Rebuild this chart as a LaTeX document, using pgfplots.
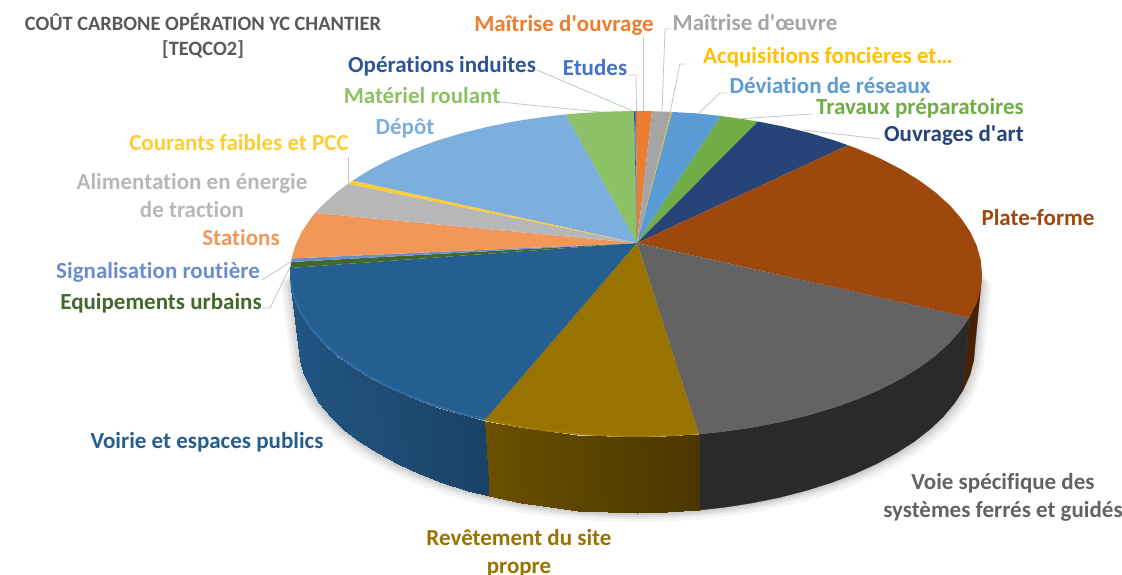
\documentclass[border=0pt]{standalone}
\usepackage{pgfplots}
\usepackage{pgfplotstable}
\usepackage{fontspec}
\setmainfont{Carlito}[Ligatures=NoCommon]
\pgfplotsset{compat=1.18}
\definecolor{cMO}{HTML}{ED7D31}
\definecolor{cMOE}{HTML}{A5A5A5}
\definecolor{cAcq}{HTML}{FFC000}
\definecolor{cDev}{HTML}{5B9BD5}
\definecolor{cTrav}{HTML}{70AD47}
\definecolor{cOuv}{HTML}{264478}
\definecolor{cPlat}{HTML}{9E480E}
\definecolor{cVoie}{HTML}{636363}
\definecolor{cRev}{HTML}{997300}
\definecolor{cVoir}{HTML}{255E91}
\definecolor{cEq}{HTML}{43682B}
\definecolor{cSig}{HTML}{698ED0}
\definecolor{cSta}{HTML}{F1975A}
\definecolor{cAli}{HTML}{B7B7B7}
\definecolor{cCou}{HTML}{FFCD33}
\definecolor{cDep}{HTML}{7CAFDD}
\definecolor{cMat}{HTML}{8CC168}
\definecolor{cOpe}{HTML}{2F5597}
\definecolor{cEtu}{HTML}{4472C4}
\definecolor{lead}{HTML}{C4C4C4}
\definecolor{ttl}{HTML}{595959}
\pgfplotsset{
  colormap={voirmap}{rgb255(0cm)=(26,66,102) rgb255(1cm)=(33,85,130)},
  colormap={revmap}{rgb255(0cm)=(74,55,0) rgb255(1cm)=(107,80,0)},
}
\pgfplotstableread{
x y
975 346
973.7 360.6
963.5 389.2
954.6 403.1
943.3 416.6
929.7 429.5
913.9 441.8
895.9 453.3
876 464.1
854.3 473.9
830.9 482.8
806 490.6
779.8 497.4
752.6 502.9
724.5 507.3
698.6 510.2
666.5 512.4
637 513
607.5 512.4
578.3 510.5
549.5 507.3
521.4 502.9
488.8 496.1
468 490.6
443.1 482.8
419.7 473.9
398 464.1
378.1 453.3
360.1 441.8
344.3 429.5
330.7 416.6
319.4 403.1
310.5 389.2
304.1 375
300.3 360.6
299 346
290 274
636 274
982 274
}\silhouette
\newcommand{\lbl}[4]{\node[text=#4,font=\fontsize{#3}{#3}\selectfont\bfseries,inner sep=0pt,anchor=base] at (axis cs:#1) {#2};}
\newcommand{\q}{\textquotesingle}
\begin{document}
\begin{tikzpicture}
\path[use as bounding box] (0,0) rectangle (1122pt,-575pt);
\begin{axis}[
  at={(0,-575pt)},anchor=south west,
  x=1pt,y=1pt,y dir=reverse,
  xmin=0,xmax=1122,ymin=0,ymax=575,
  hide axis,clip=false,no markers,
  point meta min=0,point meta max=1,
]
% soft shadow
\addplot[fill=black,draw=none,opacity=0.04] table[x expr={637+(\thisrow{x}-637)*1.028},y expr={\thisrow{y}+9}] {\silhouette} -- cycle;
\addplot[fill=black,draw=none,opacity=0.05] table[x expr={637+(\thisrow{x}-637)*1.02},y expr={\thisrow{y}+6}] {\silhouette} -- cycle;
\addplot[fill=black,draw=none,opacity=0.06] table[x expr={637+(\thisrow{x}-637)*1.012},y expr={\thisrow{y}+4}] {\silhouette} -- cycle;
\addplot[fill=black,draw=none,opacity=0.07] table[x expr={637+(\thisrow{x}-637)*1.005},y expr={\thisrow{y}+2}] {\silhouette} -- cycle;
% walls: Plate-forme
\addplot[fill=cPlat!45!black,draw=cPlat!45!black,line width=.3pt] coordinates {(982,274)(980.7,288.2)(976.7,302.3)(969.4,317.6)(962.7,390.6)(969.9,375)(973.7,360.6)(975,346)} -- cycle;
% walls: Voie
\addplot[fill=cVoie!42!black,draw=cVoie!42!black,line width=.3pt] coordinates {(969.4,317.6)(961.1,329.7)(949.6,342.9)(935.6,355.5)(919.4,367.5)(901,378.8)(880.7,389.3)(858.4,398.9)(834.5,407.5)(809,415.2)(782.2,421.7)(754.3,427.2)(725.5,431.4)(699,434.3)(698.6,510.2)(724.5,507.3)(752.6,502.9)(779.8,497.4)(806,490.6)(830.9,482.8)(854.3,473.9)(876,464.1)(895.9,453.3)(913.9,441.8)(929.7,429.5)(943.3,416.6)(954.6,403.1)(962.7,390.6)} -- cycle;
% walls: Revetement
\addplot[patch,patch type=rectangle,shader=interp,colormap name=revmap,point meta=\thisrow{c}] table {
x y c
699 434.3 0
698.6 510.2 0
666.5 512.4 .15
666.2 436.4 .15
666.2 436.4 .15
666.5 512.4 .15
637 513 .29
636 437 .29
636 437 .29
637 513 .29
607.5 512.4 .43
605.8 436.4 .43
605.8 436.4 .43
607.5 512.4 .43
578.3 510.5 .57
575.9 434.5 .57
575.9 434.5 .57
578.3 510.5 .57
549.5 507.3 .71
546.5 431.4 .71
546.5 431.4 .71
549.5 507.3 .71
521.4 502.9 .84
517.7 427.2 .84
517.7 427.2 .84
521.4 502.9 .84
488.8 496.1 1
484.3 420.5 1
};
% walls: Voirie
\addplot[patch,patch type=rectangle,shader=interp,colormap name=voirmap,point meta=\thisrow{c}] table {
x y c
484.3 420.5 0
488.8 496.1 0
468 490.6 .11
463 415.2 .11
463 415.2 .11
468 490.6 .11
443.1 482.8 .24
437.5 407.5 .24
437.5 407.5 .24
443.1 482.8 .24
419.7 473.9 .36
413.6 398.9 .36
413.6 398.9 .36
419.7 473.9 .36
398 464.1 .48
391.3 389.3 .48
391.3 389.3 .48
398 464.1 .48
378.1 453.3 .58
371 378.8 .58
371 378.8 .58
378.1 453.3 .58
360.1 441.8 .68
352.6 367.5 .68
352.6 367.5 .68
360.1 441.8 .68
344.3 429.5 .76
336.4 355.5 .76
336.4 355.5 .76
344.3 429.5 .76
330.7 416.6 .83
322.4 342.9 .83
322.4 342.9 .83
330.7 416.6 .83
319.4 403.1 .89
310.9 329.7 .89
310.9 329.7 .89
319.4 403.1 .89
310.5 389.2 .94
301.8 316.2 .94
301.8 316.2 .94
310.5 389.2 .94
304.1 375 .97
295.3 302.3 .97
295.3 302.3 .97
304.1 375 .97
300.3 360.6 .99
291.3 288.2 .99
291.3 288.2 .99
300.3 360.6 .99
299 346 1
290 274 1
};
% top slices
\addplot[fill=cMO,draw=none] coordinates {(637,243)(636,111)(652,111.2)} -- cycle;
\addplot[fill=cMOE,draw=none] coordinates {(637,243)(652,111.2)(671,111.8)} -- cycle;
\addplot[fill=cAcq,draw=none] coordinates {(637,243)(671,111.8)(672,111.9)} -- cycle;
\addplot[fill=cDev,draw=none] coordinates {(637,243)(672,111.9)(697,113.4)(721,116)} -- cycle;
\addplot[fill=cTrav,draw=none] coordinates {(637,243)(721,116)(740,118.6)(758,121.5)} -- cycle;
\addplot[fill=cOuv,draw=none] coordinates {(637,243)(758,121.5)(782.2,126.3)(809,132.8)(834.5,140.5)(848,145.2)} -- cycle;
\addplot[fill=cPlat,draw=none] coordinates {(637,243)(848,145.2)(858.4,149.1)(880.7,158.7)(901,169.2)(919.4,180.5)(935.6,192.5)(949.6,205.1)(961.1,218.3)(970.2,231.8)(976.7,245.7)(980.7,259.8)(982,274)(980.7,288.2)(976.7,302.3)(969.4,317.6)} -- cycle;
\addplot[fill=cVoie,draw=none] coordinates {(637,243)(969.4,317.6)(961.1,329.7)(949.6,342.9)(935.6,355.5)(919.4,367.5)(901,378.8)(880.7,389.3)(858.4,398.9)(834.5,407.5)(809,415.2)(782.2,421.7)(754.3,427.2)(725.5,431.4)(699,434.3)} -- cycle;
\addplot[fill=cRev,draw=none] coordinates {(637,243)(699,434.3)(666.2,436.4)(636,437)(605.8,436.4)(575.9,434.5)(546.5,431.4)(517.7,427.2)(484.3,420.5)} -- cycle;
\addplot[fill=cVoir,draw=none] coordinates {(637,243)(484.3,420.5)(463,415.2)(437.5,407.5)(413.6,398.9)(391.3,389.3)(371,378.8)(352.6,367.5)(336.4,355.5)(322.4,342.9)(310.9,329.7)(301.8,316.2)(295.3,302.3)(291.3,288.2)(290,274)(290.2,268)} -- cycle;
\addplot[fill=cEq,draw=none] coordinates {(637,243)(290.2,268)(291,262)} -- cycle;
\addplot[fill=cSig,draw=none] coordinates {(637,243)(291,262)(291.6,258.4)} -- cycle;
\addplot[fill=cSta,draw=none] coordinates {(637,243)(291.6,258.4)(295.3,245.7)(301.8,231.8)(310.9,218.3)(315,213)} -- cycle;
\addplot[fill=cAli,draw=none] coordinates {(637,243)(315,213)(322.4,205.1)(336.4,192.5)(348,183.7)} -- cycle;
\addplot[fill=cCou,draw=none] coordinates {(637,243)(348,183.7)(352.7,180.5)} -- cycle;
\addplot[fill=cDep,draw=none] coordinates {(637,243)(352.7,180.5)(371,169.2)(391.3,158.7)(413.6,149.1)(437.5,140.5)(463,132.8)(489.8,126.3)(517.7,120.8)(546.5,116.6)(565.8,114.4)} -- cycle;
\addplot[fill=cMat,draw=none] coordinates {(637,243)(565.8,114.4)(575.9,113.5)(605.8,111.6)(634,111)} -- cycle;
\addplot[fill=cOpe,draw=none] coordinates {(637,243)(634,111)(635,111)} -- cycle;
\addplot[fill=cEtu,draw=none] coordinates {(637,243)(635,111)(636,111)} -- cycle;
% bevel highlights
\addplot[color=cVoir!75!cDev,line width=1.6pt] coordinates {(484.3,419)(463,413.7)(437.5,406)(413.6,397.4)(391.3,387.8)(371,377.3)(352.6,366)(336.4,354)(322.4,341.4)(310.9,328.2)(301.8,315)(295.3,301)(291.5,287)(291,280)};
\addplot[color=cRev!90!cAcq,line width=1.4pt] coordinates {(699,433)(666.2,435.1)(636,435.7)(605.8,435.1)(575.9,433.2)(546.5,430.1)(517.7,425.9)(484.3,419.2)};
% leader lines
\addplot[color=lead,line width=.8pt] coordinates {(643,37)(643,111)};
\addplot[color=lead,line width=.8pt] coordinates {(671,29)(665,29)(662,111)};
\addplot[color=lead,line width=.8pt] coordinates {(686,64)(680,64)(670,113)};
\addplot[color=lead,line width=.8pt] coordinates {(727,93)(720,93)(698,114)};
\addplot[color=lead,line width=.8pt] coordinates {(812,114)(737,119)};
\addplot[color=lead,line width=.8pt] coordinates {(880,139)(803,130)};
\addplot[color=lead,line width=.8pt] coordinates {(628,75)(636,75)(636.5,111)};
\addplot[color=lead,line width=.8pt] coordinates {(537,70)(633,111)};
\addplot[color=lead,line width=.8pt] coordinates {(500,102)(510,103)(600,112)};
\addplot[color=lead,line width=.8pt] coordinates {(348,157)(348,183)};
\addplot[color=lead,line width=.8pt] coordinates {(262,280)(292,261)};
\addplot[color=lead,line width=.8pt] coordinates {(262,308)(270,308)(291,265)};
% labels
\lbl{203,30.5}{COÛT CARBONE OPÉRATION YC CHANTIER}{20.4}{ttl}
\lbl{203,55}{[TEQCO2]}{20.4}{ttl}
\lbl{564,31}{Maîtrise d\q{}ouvrage}{23}{cMO}
\lbl{755,30}{Maîtrise d\q{}œuvre}{23}{cMOE}
\lbl{828,63}{Acquisitions foncières et…}{23}{cAcq}
\lbl{830,93}{Déviation de réseaux}{23}{cDev}
\lbl{920,114}{Travaux préparatoires}{23}{cTrav}
\lbl{954,141}{Ouvrages d\q{}art}{23}{cOuv}
\lbl{1038,225}{Plate-forme}{23}{cPlat}
\lbl{1003,489}{Voie spécifique des}{23}{cVoie}
\lbl{1003,517}{systèmes ferrés et guidés}{23}{cVoie}
\lbl{519,545}{Revêtement du site}{23}{cRev}
\lbl{519,573}{propre}{23}{cRev}
\lbl{207,448}{Voirie et espaces publics}{23}{cVoir}
\lbl{161,309}{Equipements urbains}{23}{cEq}
\lbl{158,278}{Signalisation routière}{23}{cSig}
\lbl{241,245}{Stations}{23}{cSta}
\lbl{192,189}{Alimentation en énergie}{23}{cAli}
\lbl{192,217}{de traction}{23}{cAli}
\lbl{239,150}{Courants faibles et PCC}{23}{cCou}
\lbl{405,134}{Dépôt}{23}{cDep}
\lbl{422,103}{Matériel roulant}{23}{cMat}
\lbl{442,72}{Opérations induites}{23}{cOpe}
\lbl{595,75}{Etudes}{23}{cEtu}
\end{axis}
\end{tikzpicture}
\end{document}
